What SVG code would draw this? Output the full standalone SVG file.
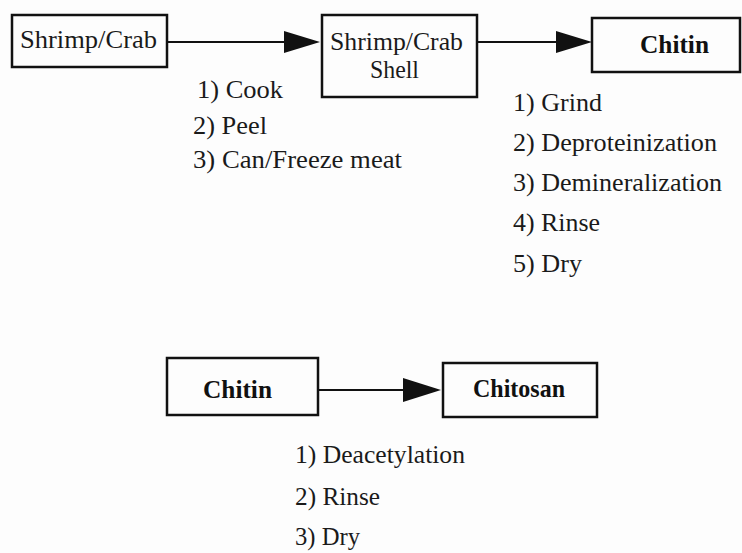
<svg xmlns="http://www.w3.org/2000/svg" width="742" height="553" viewBox="0 0 742 553">
<defs>
<style>
.box{fill:none;stroke:#111;stroke-width:2.5}
.t{font-family:"Liberation Serif","Times New Roman",serif;font-size:25px;fill:#1a1a1a}
.b{font-family:"Liberation Serif","Times New Roman",serif;font-size:25px;font-weight:bold;fill:#111}
.ln{stroke:#111;stroke-width:2.2;fill:none}
.ah{fill:#111}
</style>
</defs>
<rect width="742" height="553" fill="#fdfdfd"/>
<g id="n-shrimp">
<rect class="box" x="12" y="15" width="155" height="52"/>
<text class="t" x="20" y="48" textLength="137" lengthAdjust="spacingAndGlyphs">Shrimp/Crab</text>
</g>
<g id="n-shell">
<rect class="box" x="322" y="15" width="155" height="82"/>
<text class="t" x="330" y="50" textLength="133" lengthAdjust="spacingAndGlyphs">Shrimp/Crab</text>
<text class="t" x="370" y="78" textLength="49" lengthAdjust="spacingAndGlyphs">Shell</text>
</g>
<g id="n-chitin1">
<rect class="box" x="592" y="18" width="148" height="54"/>
<text class="b" x="640" y="53" textLength="69" lengthAdjust="spacingAndGlyphs">Chitin</text>
</g>
<g id="n-chitin2">
<rect class="box" x="167" y="358" width="151" height="57"/>
<text class="b" x="203" y="398" textLength="69" lengthAdjust="spacingAndGlyphs">Chitin</text>
</g>
<g id="n-chitosan">
<rect class="box" x="443" y="363" width="154" height="54"/>
<text class="b" x="473" y="397" textLength="92" lengthAdjust="spacingAndGlyphs">Chitosan</text>
</g>
<g id="connectors">
<line class="ln" x1="167" y1="42" x2="290" y2="42"/>
<polygon class="ah" points="284,31 320,42 284,53"/>
<line class="ln" x1="477" y1="42" x2="560" y2="42"/>
<polygon class="ah" points="556,31 592,42 556,53"/>
<line class="ln" x1="318" y1="390" x2="408" y2="390"/>
<polygon class="ah" points="403,378 441,390 403,402"/>
</g>
<g id="steps1">
<text class="t" x="197" y="98" textLength="86" lengthAdjust="spacingAndGlyphs">1) Cook</text>
<text class="t" x="193" y="134" textLength="74" lengthAdjust="spacingAndGlyphs">2) Peel</text>
<text class="t" x="193" y="168" textLength="209" lengthAdjust="spacingAndGlyphs">3) Can/Freeze meat</text>
</g>
<g id="steps2">
<text class="t" x="513" y="111" textLength="89" lengthAdjust="spacingAndGlyphs">1) Grind</text>
<text class="t" x="513" y="151" textLength="204" lengthAdjust="spacingAndGlyphs">2) Deproteinization</text>
<text class="t" x="513" y="191" textLength="209" lengthAdjust="spacingAndGlyphs">3) Demineralization</text>
<text class="t" x="513" y="231" textLength="87" lengthAdjust="spacingAndGlyphs">4) Rinse</text>
<text class="t" x="513" y="272" textLength="69" lengthAdjust="spacingAndGlyphs">5) Dry</text>
</g>
<g id="steps3">
<text class="t" x="295" y="463" textLength="170" lengthAdjust="spacingAndGlyphs">1) Deacetylation</text>
<text class="t" x="295" y="505" textLength="85" lengthAdjust="spacingAndGlyphs">2) Rinse</text>
<text class="t" x="295" y="545" textLength="65" lengthAdjust="spacingAndGlyphs">3) Dry</text>
</g>
</svg>
